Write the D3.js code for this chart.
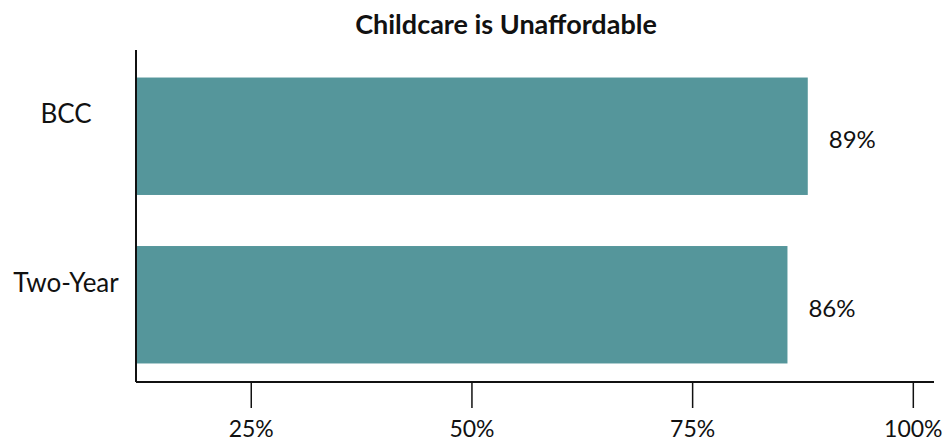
<!DOCTYPE html>
<html>
<head>
<meta charset="utf-8">
<script src="https://cdn.jsdelivr.net/npm/d3@7"></script>
<style>
  html, body { margin: 0; padding: 0; background: #fff; }
  svg { display: block; font-family: Lato, "Open Sans", sans-serif; }
</style>
</head>
<body>
<svg id="chart" width="952" height="442"></svg>
<script>
const title = "Childcare is Unaffordable";
const categories = ["BCC", "Two-Year"];
const values = [88.1, 85.8];
const valueLabels = ["89%", "86%"];
const tickValues = [25, 50, 75, 100];
const tickLabels = ["25%", "50%", "75%", "100%"];

const svg = d3.select("#chart");
const left = 136, right = 934, axisTop = 50, axisY = 382;

const x = d3.scaleLinear().domain([12, 102.4]).range([left, right]);
const y = d3.scaleBand().domain(categories).range([52, 389])
  .paddingInner(0.303).paddingOuter(0.1515);

svg.append("text")
  .attr("x", 506).attr("y", 34)
  .attr("text-anchor", "middle")
  .attr("font-size", 27).attr("font-weight", 700)
  .attr("fill", "#111")
  .text(title);

// bars
svg.selectAll("rect.bar").data(categories).join("rect")
  .attr("class", "bar")
  .attr("x", x(12))
  .attr("y", d => y(d))
  .attr("width", (d, i) => x(values[i]) - x(12))
  .attr("height", y.bandwidth())
  .attr("fill", "#55969b");

// value labels
svg.selectAll("text.val").data(categories).join("text")
  .attr("class", "val")
  .attr("x", (d, i) => x(values[i]) + 21)
  .attr("y", d => y(d) + y.bandwidth() / 2 + 12)
  .attr("font-size", 24)
  .attr("fill", "#111")
  .text((d, i) => valueLabels[i]);

// category labels
svg.selectAll("text.cat").data(categories).join("text")
  .attr("class", "cat")
  .attr("x", 66)
  .attr("y", d => y(d) + y.bandwidth() / 2 - 13)
  .attr("text-anchor", "middle")
  .attr("font-size", 26)
  .attr("fill", "#111")
  .text(d => d);

// x axis
const xAxis = d3.axisBottom(x)
  .tickValues(tickValues)
  .tickFormat((d, i) => tickLabels[i])
  .tickSize(26)
  .tickPadding(13);
const gx = svg.append("g").attr("transform", `translate(0,${axisY})`).call(xAxis);
gx.select(".domain").remove();
gx.selectAll(".tick line").attr("stroke", "#111").attr("stroke-width", 1.5);
gx.selectAll(".tick text").attr("font-size", 23).attr("fill", "#111")
  .attr("font-family", "Lato, 'Open Sans', sans-serif");

svg.append("line")
  .attr("x1", left).attr("x2", right)
  .attr("y1", axisY).attr("y2", axisY)
  .attr("stroke", "#111").attr("stroke-width", 2);

// y axis line
svg.append("line")
  .attr("x1", left).attr("x2", left)
  .attr("y1", axisTop).attr("y2", axisY)
  .attr("stroke", "#111").attr("stroke-width", 2);
</script>
</body>
</html>
